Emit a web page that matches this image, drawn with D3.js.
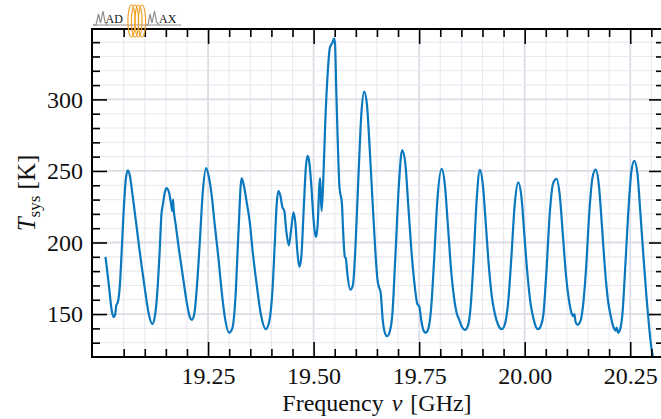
<!DOCTYPE html>
<html>
<head>
<meta charset="utf-8">
<script src="https://cdnjs.cloudflare.com/ajax/libs/d3/7.8.5/d3.min.js"></script>
<style>
  body { margin: 0; background: #fff; }
  svg { display: block; }
  text { font-family: "Liberation Serif", "Times New Roman", serif; fill: #111; }
</style>
</head>
<body>
<script>
// system temperature sweep
var freqGHz = [
  19.007, 19.015, 19.022, 19.026, 19.030, 19.0325, 19.036, 19.041, 19.0455, 19.050,
  19.0547, 19.0597, 19.0645, 19.0716, 19.0811, 19.0905, 19.100, 19.1095, 19.1178, 19.1237,
  19.1296, 19.1355, 19.1396, 19.1427, 19.1474, 19.1521, 19.1581, 19.1628, 19.1652, 19.1668,
  19.1682, 19.1735, 19.1806, 19.1870, 19.1924, 19.1995, 19.2066, 19.2114, 19.2173, 19.2232,
  19.2303, 19.2374, 19.2453, 19.2517, 19.2581, 19.2659, 19.2742, 19.2825, 19.2896, 19.2998,
  19.3074, 19.3145, 19.3216, 19.3294, 19.3346, 19.3410, 19.3488, 19.3559, 19.3654, 19.3749,
  19.3867, 19.3950, 19.4021, 19.4081, 19.4128, 19.4164, 19.4211, 19.4258, 19.4306, 19.4353,
  19.4412, 19.4471, 19.4523, 19.4566, 19.4614, 19.4661, 19.4708, 19.4768, 19.4815, 19.4855,
  19.4898, 19.4945, 19.4993, 19.5029, 19.5064, 19.5100, 19.5135, 19.5154, 19.5171, 19.5190,
  19.5230, 19.5277, 19.5337, 19.5384, 19.5443, 19.5486, 19.5509, 19.5533, 19.5562, 19.5585,
  19.5609, 19.5633, 19.5668, 19.5704, 19.5739, 19.5763, 19.5799, 19.5870, 19.5929, 19.5988,
  19.6060, 19.6131, 19.6197, 19.6261, 19.6320, 19.6379, 19.6450, 19.6509, 19.6557, 19.6585,
  19.6640, 19.6699, 19.6742, 19.6806, 19.6865, 19.6936, 19.7019, 19.7097, 19.7173, 19.7244,
  19.7315, 19.7386, 19.7458, 19.7501, 19.7553, 19.7612, 19.7660, 19.7719, 19.7778, 19.7849,
  19.7932, 19.8032, 19.8110, 19.8181, 19.8253, 19.8324, 19.8395, 19.8450, 19.8514, 19.8585,
  19.8656, 19.8713, 19.8784, 19.8867, 19.8938, 19.9010, 19.9081, 19.9152, 19.9223, 19.9294,
  19.9377, 19.9453, 19.9507, 19.9555, 19.9614, 19.9685, 19.9768, 19.9846, 19.9922, 19.9993,
  20.0065, 20.0136, 20.0207, 20.0266, 20.0320, 20.0384, 20.0444, 20.0515, 20.0598, 20.0680,
  20.0756, 20.0834, 20.0905, 20.0976, 20.1047, 20.1107, 20.1150, 20.1178, 20.1202, 20.1254,
  20.1320, 20.1379, 20.1450, 20.1533, 20.1604, 20.1680, 20.1758, 20.1829, 20.1900, 20.1971,
  20.2043, 20.2102, 20.2149, 20.2180, 20.2209, 20.2256, 20.2315, 20.2386, 20.2469, 20.2529,
  20.2595, 20.2671, 20.2742, 20.2814, 20.2885, 20.2944, 20.3008, 20.3045
];
var tsysK = [
  190, 170, 152, 148, 150, 156, 158, 170, 195, 222,
  243, 250.5, 247, 232, 210, 188, 168, 150, 143, 148,
  165, 195, 220, 226, 235, 238, 234, 226, 222, 230,
  224, 212, 196, 183, 172, 158, 148, 146, 150, 168,
  200, 235, 252, 246, 234, 212, 190, 165, 148, 137,
  140, 160, 205, 245, 240, 229, 214, 193, 170, 150,
  139.5, 145, 165, 200, 228, 236, 233, 225, 222, 208,
  198, 210, 221, 214, 194, 183, 190, 225, 252, 260.5,
  256, 240, 218, 207, 204, 215, 240, 245, 232, 222,
  245, 285, 320, 336, 339.5, 342.5, 338, 310, 280, 258,
  240, 234, 228, 205, 190, 189, 178, 167, 170, 195,
  245, 290, 305.5, 297, 270, 238, 200, 175, 168, 165.7,
  145, 136, 134.5, 138, 150, 190, 240, 264.5, 255, 225,
  195, 172, 157, 155.5, 145, 138, 137, 140, 152, 185,
  230, 251.5, 240, 212, 182, 162, 150, 146, 141, 139,
  142, 153, 185, 232, 250.8, 240, 212, 183, 162, 150,
  142, 139.5, 141, 146, 160, 190, 228, 242, 232, 205,
  178, 158, 147, 141, 139.5, 142, 150, 180, 222, 242,
  244.5, 232, 205, 178, 160, 151, 148.5, 150, 145, 142.5,
  145, 155, 180, 222, 245, 251, 240, 212, 182, 160,
  148, 141, 138.5, 140.5, 137, 139, 150, 185, 228, 250,
  257, 248, 220, 190, 162, 142, 125, 119
];

var xMajorTicks = [19.25, 19.50, 19.75, 20.00, 20.25];
var xTickLabels = ["19.25", "19.50", "19.75", "20.00", "20.25"];
var yMajorTicks = [150, 200, 250, 300];
var yTickLabels = ["150", "200", "250", "300"];

// set the dimensions and margins of the graph
var margin = { top: 29, right: -3, bottom: 62, left: 92 },
    width = 661 - margin.left - margin.right,
    height = 419 - margin.top - margin.bottom;

var x = d3.scaleLinear().domain([18.975, 20.33]).range([0, width]);
var y = d3.scaleLinear().domain([120, 349.2]).range([height, 0]);

// minor ticks every 0.05 GHz / 10 K
var xMinorTicks = d3.range(19.05, 20.33, 0.05).map(function (d) { return +d.toFixed(2); });
var yMinorTicks = d3.range(130, 349, 10);

var svg = d3.select("body").append("svg")
    .attr("width", 661)
    .attr("height", 419);

var g = svg.append("g")
    .attr("transform", "translate(" + margin.left + "," + margin.top + ")");

// grid
g.selectAll(".vgrid")
    .data(xMinorTicks)
    .enter().append("line")
    .attr("x1", function (d) { return x(d); })
    .attr("x2", function (d) { return x(d); })
    .attr("y1", 0).attr("y2", height)
    .attr("stroke", function (d) { return xMajorTicks.indexOf(d) >= 0 ? "#dcdce6" : "#e9e9f1"; })
    .attr("stroke-width", function (d) { return xMajorTicks.indexOf(d) >= 0 ? 1.8 : 1.1; });

g.selectAll(".hgrid")
    .data(yMinorTicks)
    .enter().append("line")
    .attr("y1", function (d) { return y(d); })
    .attr("y2", function (d) { return y(d); })
    .attr("x1", 0).attr("x2", width)
    .attr("stroke", function (d) { return yMajorTicks.indexOf(d) >= 0 ? "#dcdce6" : "#e9e9f1"; })
    .attr("stroke-width", function (d) { return yMajorTicks.indexOf(d) >= 0 ? 1.8 : 1.1; });

// the curve
g.append("clipPath").attr("id", "clip")
    .append("rect").attr("width", width).attr("height", height);

var valueline = d3.line()
    .x(function (d) { return x(d[0]); })
    .y(function (d) { return y(d[1]); })
    .curve(d3.curveMonotoneX);

g.append("path")
    .datum(d3.zip(freqGHz, tsysK))
    .attr("clip-path", "url(#clip)")
    .attr("fill", "none")
    .attr("stroke", "#0a78be")
    .attr("stroke-width", 2.2)
    .attr("stroke-linejoin", "round")
    .attr("d", valueline);

// inward ticks on all four sides
function addAxis(axis, transform, major) {
    var a = g.append("g").attr("transform", transform).call(axis);
    a.select(".domain").remove();
    a.selectAll("line").attr("stroke", "#000").attr("stroke-width", 1.6);
    if (!major) a.selectAll("text").remove();
    return a;
}

var xMinorFiltered = xMinorTicks.filter(function (d) { return xMajorTicks.indexOf(d) < 0; });
var yMinorFiltered = yMinorTicks.filter(function (d) { return yMajorTicks.indexOf(d) < 0; });

addAxis(d3.axisBottom(x).tickValues(xMinorFiltered).tickSize(-8), "translate(0," + height + ")", false);
addAxis(d3.axisTop(x).tickValues(xMinorFiltered).tickSize(-8), "translate(0,0)", false);
addAxis(d3.axisTop(x).tickValues(xMajorTicks).tickSize(-15), "translate(0,0)", false);
addAxis(d3.axisLeft(y).tickValues(yMinorFiltered).tickSize(-8), "translate(0,0)", false);
addAxis(d3.axisRight(y).tickValues(yMinorFiltered).tickSize(-8), "translate(" + width + ",0)", false);
addAxis(d3.axisRight(y).tickValues(yMajorTicks).tickSize(-15), "translate(" + width + ",0)", false);

var xa = addAxis(d3.axisBottom(x).tickValues(xMajorTicks).tickSize(-15)
    .tickFormat(function (d, i) { return xTickLabels[i]; }), "translate(0," + height + ")", true);
xa.selectAll("text").attr("y", 11).attr("dy", "0.68em").attr("font-size", 24)
    .attr("font-family", "Liberation Serif").attr("fill", "#111");

var ya = addAxis(d3.axisLeft(y).tickValues(yMajorTicks).tickSize(-15)
    .tickFormat(function (d, i) { return yTickLabels[i]; }), "translate(0,0)", true);
ya.selectAll("text").attr("x", -9).attr("dy", "0.33em").attr("font-size", 24)
    .attr("font-family", "Liberation Serif").attr("fill", "#111");

// frame
g.append("rect")
    .attr("width", width).attr("height", height)
    .attr("fill", "none").attr("stroke", "#000").attr("stroke-width", 2);

// axis labels
var xl = svg.append("text")
    .attr("x", margin.left + width / 2 - 1)
    .attr("y", 411)
    .attr("text-anchor", "middle")
    .attr("font-size", 24)
    .attr("word-spacing", 2);
xl.append("tspan").text("Frequency ");
xl.append("tspan").attr("font-style", "italic").text("ν");
xl.append("tspan").text(" [GHz]");

var yl = svg.append("text")
    .attr("transform", "translate(35," + (margin.top + height / 2) + ") rotate(-90)")
    .attr("text-anchor", "middle")
    .attr("font-size", 25);
yl.append("tspan").attr("font-style", "italic").text("T");
yl.append("tspan").attr("font-size", 17).attr("dy", 5).text("sys");
yl.append("tspan").attr("dy", -5).text(" [K]");

// MADMAX logo above the frame
var logo = svg.append("g")
    .attr("fill", "none")
    .attr("stroke", "#8f8f8f")
    .attr("stroke-width", 1.2);

logo.append("line").attr("x1", 93).attr("x2", 181).attr("y1", 25).attr("y2", 25);
logo.append("polyline")
    .attr("points", "93,25 96,25 98.5,14 100.5,23 103,11 105,22 107,25");
logo.append("polyline")
    .attr("points", "145,25 148,25 150,14 152,23 154.5,11 156.5,22 159,25");
svg.append("text").attr("x", 105.5).attr("y", 23).attr("font-family", "DejaVu Sans")
    .attr("font-size", 12).attr("fill", "#8f8f8f").text("AD");
svg.append("text").attr("x", 159).attr("y", 23).attr("font-family", "DejaVu Sans")
    .attr("font-size", 12).attr("fill", "#8f8f8f").text("AX");

var coil = svg.append("g").attr("fill", "none").attr("stroke", "#f2a22c").attr("stroke-width", 1.2);
[131.5, 135, 138.5, 142].forEach(function (cx) {
    coil.append("ellipse").attr("cx", cx).attr("cy", 21).attr("rx", 3.6).attr("ry", 16);
});
</script>
</body>
</html>
